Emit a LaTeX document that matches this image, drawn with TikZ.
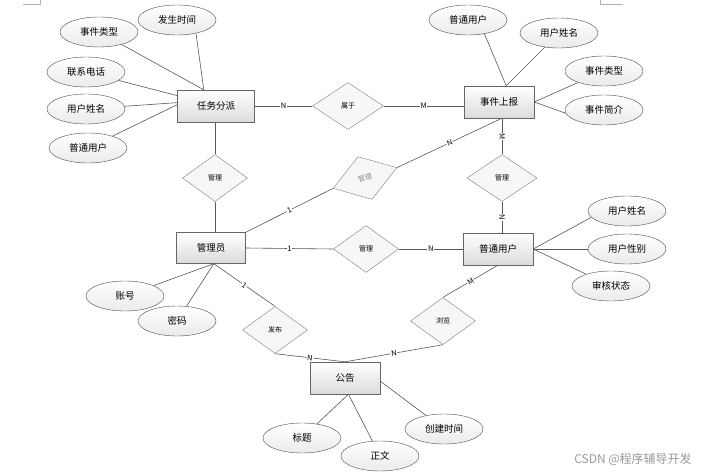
\documentclass[tikz,border=0pt]{standalone}
\usepackage{fontspec}
\setmainfont{Noto Sans CJK SC}
\usetikzlibrary{shapes.geometric}
\begin{document}
\begin{tikzpicture}[x=1pt,y=-1pt,
 ent/.style={rectangle, draw=black!60, top color=white, bottom color=black!14, minimum width=70pt, minimum height=32pt, inner sep=0pt, font=\fontsize{9.5}{11}\selectfont},
 attr/.style={ellipse, draw=black!70, top color=white, bottom color=black!8, minimum width=78pt, minimum height=30pt, inner sep=0pt, font=\fontsize{9.5}{11}\selectfont},
 rel/.style={diamond, draw=black!50, fill=black!3, minimum width=65pt, minimum height=47pt, inner sep=0pt, font=\fontsize{7}{8}\selectfont},
 conn/.style={draw=black!65, line width=0.6pt},
 card/.style={fill=white, inner sep=0.6pt, font=\fontsize{7.5}{8}\selectfont},
]
\useasboundingbox[fill=white] (0,0) rectangle (708,473);
\draw[black!30] (23,4) -- (40,4) -- (40,0);
\draw[black!30] (600,0) -- (600,4) -- (623,4);

% entities
\node[ent, minimum width=77pt] (rw) at (216,106) {任务分派};
\node[ent] (sb) at (499,102) {事件上报};
\node[ent, minimum width=69pt, minimum height=31pt] (adm) at (211,248) {管理员};
\node[ent] (pu) at (498,249) {普通用户};
\node[ent] (gg) at (345,378) {公告};

% attributes
\node[attr] (a1) at (99,32) {事件类型};
\node[attr] (a2) at (177,20) {发生时间};
\node[attr] (a3) at (86,72) {联系电话};
\node[attr] (a4) at (86,109) {用户姓名};
\node[attr] (a5) at (88,148) {普通用户};
\node[attr] (b1) at (468,20) {普通用户};
\node[attr] (b2) at (559,33) {用户姓名};
\node[attr] (b3) at (604,71) {事件类型};
\node[attr] (b4) at (604,110) {事件简介};
\node[attr] (c1) at (627,211) {用户姓名};
\node[attr] (c2) at (627,249) {用户性别};
\node[attr] (c3) at (611,286) {审核状态};
\node[attr] (d1) at (125,296) {账号};
\node[attr] (d2) at (177,321) {密码};
\node[attr] (e1) at (302,438) {标题};
\node[attr] (e2) at (380,456) {正文};
\node[attr] (e3) at (444,429) {创建时间};

% relations
\node[rel, minimum width=71pt] (r1) at (348,106) {属于};
\node[rel] (r2) at (215,178) {管理};
\node[rel, minimum width=70pt] (r3) at (502,178) {管理};
\node[rel] (r4) at (366,249) {管理};
\node[rel, rotate=18, minimum width=67pt, minimum height=45pt, text=black!45] (r5) at (365,178) {管理};
\node[rel] (r6) at (275,330) {发布};
\node[rel] (r7) at (443,321) {浏览};

\coordinate (sbs) at (r3.north |- sb.south);

% attribute lines
\draw[conn] (a1) -- (rw.127);
\draw[conn] (a2.-35) -- (rw.127);
\draw[conn] (a3) -- (rw.165);
\draw[conn] (a4) -- (rw.175);
\draw[conn] (a5) -- (rw.178);
\draw[conn] (b1.-40) -- (sb.66);
\draw[conn] (b2) -- (sb.66);
\draw[conn] (b3) -- (sb.east);
\draw[conn] (b4.185) -- (sb.east);
\draw[conn] (c1.190) -- (pu.east);
\draw[conn] (c2.west) -- (pu.east);
\draw[conn] (c3) -- (pu.east);
\draw[conn] (d1) -- (adm.-80);
\draw[conn] (d2) -- (adm.-80);
\draw[conn] (e1) -- (gg.-78);
\draw[conn] (e2) -- (gg.-78);
\draw[conn] (e3) -- (gg.-5);

% relationship lines
\draw[conn] (rw.east) -- node[card]{N} (r1.west);
\draw[conn] (r1.east) -- node[card]{M} (sb.west |- r1.east);
\draw[conn] (rw.south -| r2.north) -- (r2.north);
\draw[conn] (r2.south) -- (r2.south |- adm.north);
\draw[conn] (sbs) -- node[card, rotate=-90]{M} (r3.north);
\draw[conn] (r3.south) -- node[card, rotate=-90]{N} (r3.south |- pu.north);
\draw[conn] (adm.east) -- node[card]{1} (r4.west);
\draw[conn] (r4.east) -- node[card]{N} (pu.west);
\draw[conn] (adm.north east) -- node[card, sloped]{1} (r5.west);
\draw[conn] (r5.east) -- node[card, sloped]{N} (sbs);
\draw[conn] (adm.-80) -- node[card, sloped]{1} (r6.north);
\draw[conn] (r6.south) -- node[card, sloped]{N} (gg.north);
\draw[conn] (pu.south) -- node[card, sloped]{M} (r7.north);
\draw[conn] (r7.south) -- node[card, sloped]{N} (gg.north);

\node[font=\fontsize{12}{14}\selectfont, text=black!40] (wm) at (633,459) {CSDN @程序辅导开发};
\end{tikzpicture}
\end{document}
